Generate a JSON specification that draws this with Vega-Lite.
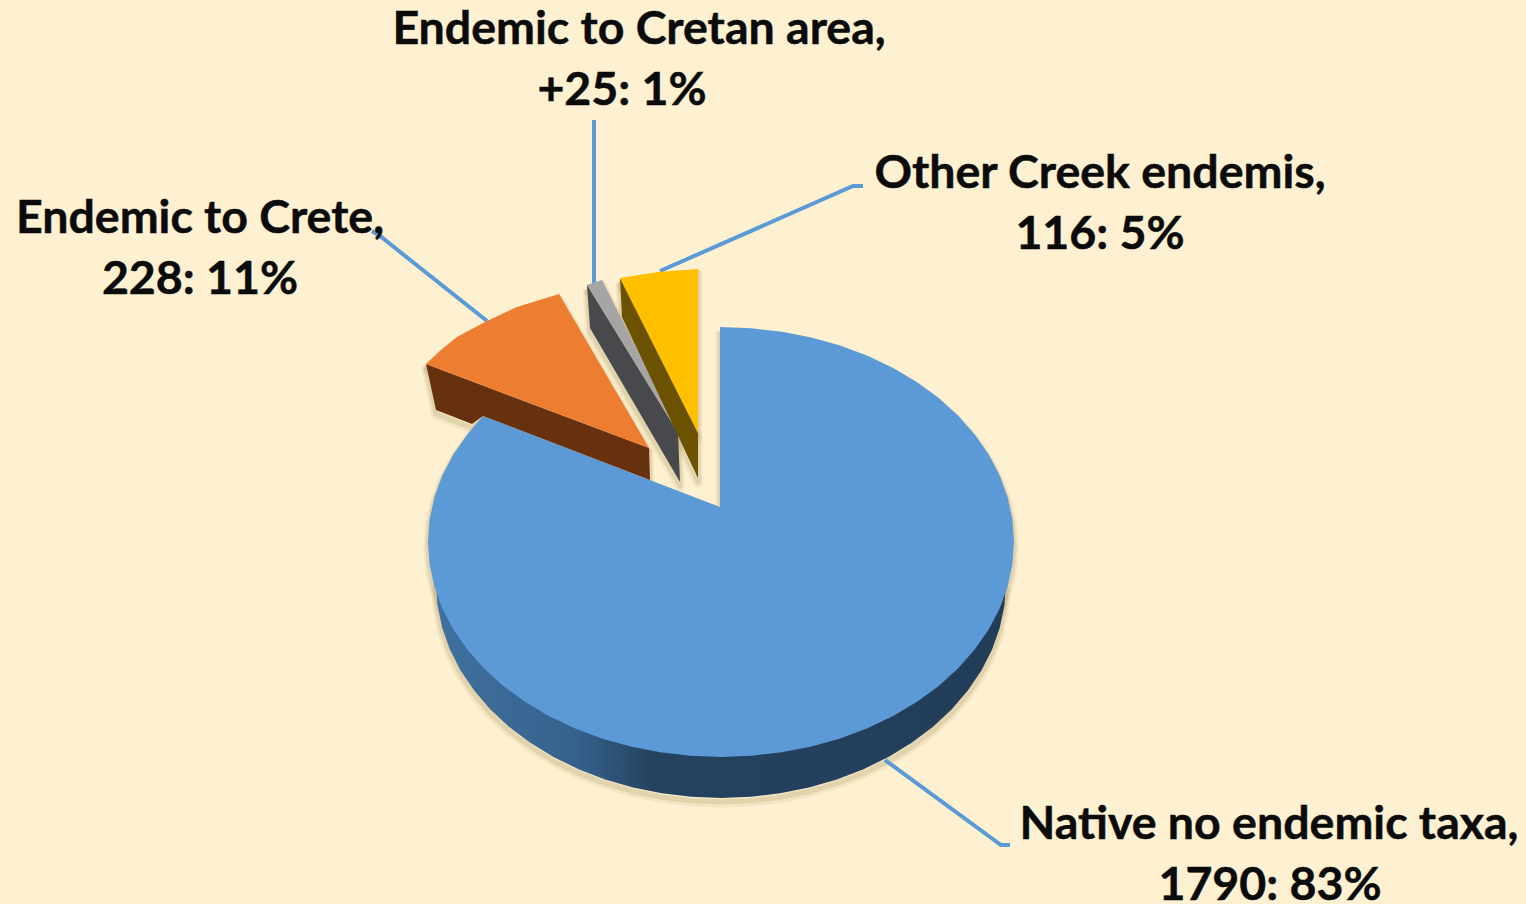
{"$schema":"https://vega.github.io/schema/vega-lite/v6.json","width":1526,"height":904,"autosize":"none","padding":0,"background":"#FEF1D1","config":{"view":{"stroke":null}},"datasets":{"outlines":[
{"part":"Native wall","i":0,"x":285,"y":-41},{"part":"Native wall","i":1,"x":283.4,"y":-63.5},{"part":"Native wall","i":2,"x":278.8,"y":-85.7},{"part":"Native wall","i":3,"x":271.1,"y":-107.4},{"part":"Native wall","i":4,"x":260.4,"y":-128.4},{"part":"Native wall","i":5,"x":246.8,"y":-148.5},{"part":"Native wall","i":6,"x":230.6,"y":-167.4},{"part":"Native wall","i":7,"x":211.8,"y":-184.9},{"part":"Native wall","i":8,"x":190.7,"y":-200.8},{"part":"Native wall","i":9,"x":167.5,"y":-214.9},{"part":"Native wall","i":10,"x":142.5,"y":-227.2},{"part":"Native wall","i":11,"x":115.9,"y":-237.4},{"part":"Native wall","i":12,"x":88.1,"y":-245.5},{"part":"Native wall","i":13,"x":59.3,"y":-251.3},{"part":"Native wall","i":14,"x":29.8,"y":-254.8},{"part":"Native wall","i":15,"x":0,"y":-256},{"part":"Native wall","i":16,"x":-29.8,"y":-254.8},{"part":"Native wall","i":17,"x":-59.3,"y":-251.3},{"part":"Native wall","i":18,"x":-88.1,"y":-245.5},{"part":"Native wall","i":19,"x":-115.9,"y":-237.4},{"part":"Native wall","i":20,"x":-142.5,"y":-227.2},{"part":"Native wall","i":21,"x":-167.5,"y":-214.9},{"part":"Native wall","i":22,"x":-190.7,"y":-200.8},{"part":"Native wall","i":23,"x":-211.8,"y":-184.9},{"part":"Native wall","i":24,"x":-230.6,"y":-167.4},{"part":"Native wall","i":25,"x":-246.8,"y":-148.5},{"part":"Native wall","i":26,"x":-260.4,"y":-128.4},{"part":"Native wall","i":27,"x":-271.1,"y":-107.4},{"part":"Native wall","i":28,"x":-278.8,"y":-85.7},{"part":"Native wall","i":29,"x":-283.4,"y":-63.5},{"part":"Native wall","i":30,"x":-285,"y":-41},{"part":"Native wall","i":31,"x":285,"y":-41},
{"part":"Native top","i":0,"x":-1,"y":215},{"part":"Native top","i":1,"x":30.6,"y":213.8},{"part":"Native top","i":2,"x":60.9,"y":210.3},{"part":"Native top","i":3,"x":90.5,"y":204.5},{"part":"Native top","i":4,"x":119.2,"y":196.4},{"part":"Native top","i":5,"x":146.5,"y":186.2},{"part":"Native top","i":6,"x":172.2,"y":173.9},{"part":"Native top","i":7,"x":196.1,"y":159.8},{"part":"Native top","i":8,"x":217.7,"y":143.9},{"part":"Native top","i":9,"x":237,"y":126.4},{"part":"Native top","i":10,"x":253.7,"y":107.5},{"part":"Native top","i":11,"x":267.7,"y":87.4},{"part":"Native top","i":12,"x":278.7,"y":66.4},{"part":"Native top","i":13,"x":286.6,"y":44.7},{"part":"Native top","i":14,"x":291.4,"y":22.5},{"part":"Native top","i":15,"x":293,"y":0},{"part":"Native top","i":16,"x":291.4,"y":-22.5},{"part":"Native top","i":17,"x":286.6,"y":-44.7},{"part":"Native top","i":18,"x":278.7,"y":-66.4},{"part":"Native top","i":19,"x":267.7,"y":-87.4},{"part":"Native top","i":20,"x":253.7,"y":-107.5},{"part":"Native top","i":21,"x":237,"y":-126.4},{"part":"Native top","i":22,"x":217.7,"y":-143.9},{"part":"Native top","i":23,"x":196.1,"y":-159.8},{"part":"Native top","i":24,"x":172.2,"y":-173.9},{"part":"Native top","i":25,"x":146.5,"y":-186.2},{"part":"Native top","i":26,"x":119.2,"y":-196.4},{"part":"Native top","i":27,"x":90.5,"y":-204.5},{"part":"Native top","i":28,"x":60.9,"y":-210.3},{"part":"Native top","i":29,"x":30.6,"y":-213.8},{"part":"Native top","i":30,"x":0,"y":-215},{"part":"Native top","i":31,"x":-30.6,"y":-213.8},{"part":"Native top","i":32,"x":-60.9,"y":-210.3},{"part":"Native top","i":33,"x":-90.5,"y":-204.5},{"part":"Native top","i":34,"x":-119.2,"y":-196.4},{"part":"Native top","i":35,"x":-146.5,"y":-186.2},{"part":"Native top","i":36,"x":-172.2,"y":-173.9},{"part":"Native top","i":37,"x":-196.1,"y":-159.8},{"part":"Native top","i":38,"x":-217.7,"y":-143.9},{"part":"Native top","i":39,"x":-237,"y":-126.4},{"part":"Native top","i":40,"x":-253.7,"y":-107.5},{"part":"Native top","i":41,"x":-267.7,"y":-87.4},{"part":"Native top","i":42,"x":-278.7,"y":-66.4},{"part":"Native top","i":43,"x":-286.6,"y":-44.7},{"part":"Native top","i":44,"x":-291.4,"y":-22.5},{"part":"Native top","i":45,"x":-293,"y":0},{"part":"Native top","i":46,"x":-291.4,"y":22.5},{"part":"Native top","i":47,"x":-286.6,"y":44.7},{"part":"Native top","i":48,"x":-278.7,"y":66.4},{"part":"Native top","i":49,"x":-267.7,"y":87.4},{"part":"Native top","i":50,"x":-253.7,"y":107.5},{"part":"Native top","i":51,"x":-238,"y":126},{"part":"Native top","i":52,"x":-1,"y":35},{"part":"Native top","i":53,"x":-1,"y":215},
{"part":"Crete side","i":0,"x":-295,"y":178},{"part":"Crete side","i":1,"x":-72,"y":94},{"part":"Crete side","i":2,"x":-71,"y":62},{"part":"Crete side","i":3,"x":-238,"y":126},{"part":"Crete side","i":4,"x":-249,"y":118},{"part":"Crete side","i":5,"x":-285,"y":132},{"part":"Crete side","i":6,"x":-295,"y":178},
{"part":"Crete top","i":0,"x":-72,"y":94},{"part":"Crete top","i":1,"x":-295,"y":178},{"part":"Crete top","i":2,"x":-280,"y":192},{"part":"Crete top","i":3,"x":-264,"y":205},{"part":"Crete top","i":4,"x":-234,"y":221},{"part":"Crete top","i":5,"x":-204,"y":235},{"part":"Crete top","i":6,"x":-162,"y":248},{"part":"Crete top","i":7,"x":-72,"y":94},
{"part":"Cretan area side","i":0,"x":-134,"y":257},{"part":"Cretan area side","i":1,"x":-43,"y":109},{"part":"Cretan area side","i":2,"x":-41,"y":60},{"part":"Cretan area side","i":3,"x":-131,"y":214},{"part":"Cretan area side","i":4,"x":-134,"y":257},
{"part":"Cretan area top","i":0,"x":-134,"y":257},{"part":"Cretan area top","i":1,"x":-119,"y":262},{"part":"Cretan area top","i":2,"x":-43,"y":110},{"part":"Cretan area top","i":3,"x":-134,"y":257},
{"part":"Greek side","i":0,"x":-101,"y":264},{"part":"Greek side","i":1,"x":-23,"y":109},{"part":"Greek side","i":2,"x":-23,"y":64},{"part":"Greek side","i":3,"x":-99,"y":225},{"part":"Greek side","i":4,"x":-101,"y":264},
{"part":"Greek top","i":0,"x":-101,"y":264},{"part":"Greek top","i":1,"x":-63,"y":270},{"part":"Greek top","i":2,"x":-23,"y":273},{"part":"Greek top","i":3,"x":-23,"y":109},{"part":"Greek top","i":4,"x":-101,"y":264}
],"leaders":[
{"slice":"Native no endemic taxa","i":0,"x":164,"y":-218},{"slice":"Native no endemic taxa","i":1,"x":280,"y":-303},{"slice":"Native no endemic taxa","i":2,"x":289,"y":-303},
{"slice":"Endemic to Crete","i":0,"x":-234,"y":221},{"slice":"Endemic to Crete","i":1,"x":-341,"y":306},{"slice":"Endemic to Crete","i":2,"x":-349,"y":311},
{"slice":"Endemic to Cretan area","i":0,"x":-127,"y":422},{"slice":"Endemic to Cretan area","i":1,"x":-127,"y":257},
{"slice":"Other Creek endemis","i":0,"x":-61,"y":271},{"slice":"Other Creek endemis","i":1,"x":132,"y":356},{"slice":"Other Creek endemis","i":2,"x":142,"y":356}
],"labels":[
{"line":"Endemic to Cretan area,","x":-82,"y":498},{"line":"+25: 1%","x":-99,"y":437},
{"line":"Other Creek endemis,","x":379,"y":354},{"line":"116: 5%","x":379,"y":293},
{"line":"Endemic to Crete,","x":-521,"y":309},{"line":"228: 11%","x":-521,"y":248},
{"line":"Native no endemic taxa,","x":548,"y":-297},{"line":"1790: 83%","x":549,"y":-358}
]},
"encoding":{"x":{"field":"x","type":"quantitative","scale":{"domain":[-721,805],"nice":false,"zero":false},"axis":null},"y":{"field":"y","type":"quantitative","scale":{"domain":[-362,542],"nice":false,"zero":false},"axis":null}},
"layer":[
{"data":{"name":"outlines"},"mark":{"type":"line","stroke":"#B9A878","strokeWidth":9,"strokeOpacity":0.16,"strokeJoin":"round","yOffset":5},"encoding":{"detail":{"field":"part"},"order":{"field":"i"}}},
{"data":{"name":"outlines"},"mark":{"type":"line","stroke":"#B9A878","strokeWidth":5,"strokeOpacity":0.3,"strokeJoin":"round","yOffset":4},"encoding":{"detail":{"field":"part"},"order":{"field":"i"}}},
{"data":{"name":"leaders"},"mark":{"type":"line","stroke":"#5B9BD5","strokeWidth":4},"encoding":{"detail":{"field":"slice"},"order":{"field":"i"}}},
{"data":{"name":"outlines"},"transform":[{"filter":"datum.part === 'Native wall'"}],"mark":{"type":"line","strokeWidth":0,"fill":{"gradient":"linear","x1":0,"y1":0,"x2":1,"y2":0,"stops":[{"offset":0,"color":"#40719F"},{"offset":0.25,"color":"#36618C"},{"offset":0.38,"color":"#25425F"},{"offset":1,"color":"#223D58"}]}},"encoding":{"order":{"field":"i"}}},
{"data":{"name":"outlines"},"transform":[{"filter":"datum.part !== 'Native wall'"}],"mark":{"type":"line","strokeWidth":0},"encoding":{"detail":{"field":"part"},"order":{"field":"i"},"fill":{"field":"part","type":"nominal","legend":null,"scale":{"domain":["Native top","Crete side","Crete top","Cretan area side","Cretan area top","Greek side","Greek top"],"range":["#5B9AD6","#67310E","#ED7D31","#47494D","#A5A5A5","#6B5100","#FFC000"]}}}},
{"data":{"name":"labels"},"mark":{"type":"text","font":"Lato","fontWeight":"bold","fontSize":46.5,"align":"center","baseline":"alphabetic","fill":"#0B0B0B","stroke":"#0B0B0B","strokeWidth":0.5},"encoding":{"text":{"field":"line"}}}
]}
